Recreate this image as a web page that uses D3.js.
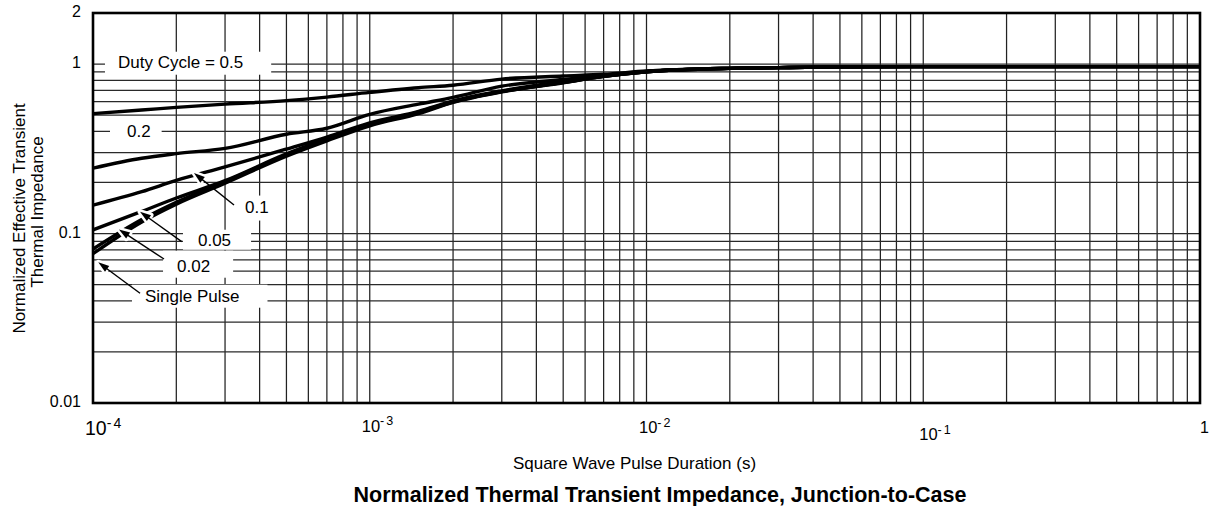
<!DOCTYPE html>
<html><head><meta charset="utf-8">
<script src="https://cdn.jsdelivr.net/npm/d3@7"></script>
<style>
html,body{margin:0;padding:0;background:#fff;}
svg{display:block;font-family:"Liberation Sans",Arial,Helvetica,sans-serif;}
</style></head>
<body><svg id="c" width="1210" height="506"></svg>
<script>
// ---- data ----
const tVals = [1e-4,1.5e-4,2e-4,3e-4,5e-4,7e-4,1e-3,1.5e-3,2e-3,3e-3,5e-3,7e-3,1e-2,2e-2,3e-2,5e-2,1e-1,1];
const duty05 = [0.51,0.535,0.555,0.58,0.608,0.638,0.68,0.725,0.75,0.815,0.85,0.87,0.91,0.943,0.952,0.962,0.965,0.965];
const duty02 = [0.243,0.278,0.296,0.318,0.385,0.418,0.505,0.58,0.635,0.74,0.81,0.855,0.905,0.943,0.952,0.962,0.965,0.965];
const duty01 = [0.147,0.1765,0.2056,0.247,0.315,0.371,0.45,0.525,0.605,0.695,0.79,0.848,0.9,0.943,0.952,0.962,0.965,0.965];
const duty005 = [0.105,0.135,0.162,0.205,0.295,0.362,0.443,0.52,0.6,0.69,0.78,0.846,0.9,0.943,0.952,0.962,0.965,0.965];
const duty002 = [0.081,0.121,0.153,0.202,0.29,0.357,0.437,0.515,0.597,0.688,0.778,0.845,0.9,0.943,0.952,0.962,0.965,0.965];
const singlePulse = [0.076,0.117,0.149,0.198,0.286,0.352,0.432,0.51,0.594,0.685,0.775,0.845,0.9,0.943,0.952,0.962,0.965,0.965];
const seriesList = [duty05,duty02,duty01,duty005,duty002,singlePulse];

const xTickVals = [1e-4,1e-3,1e-2,1e-1,1];
const xTickExp = ["-4","-3","-2","-1",""];
const yTickVals = [2,1,0.1,0.01];
const yTickText = ["2","1","0.1","0.01"];

const annoText = ["Duty Cycle = 0.5","0.2","0.1","0.05","0.02","Single Pulse"];
const annoAt   = [[1.231e-4,0.951],[1.327e-4,0.3727],[3.541e-4,0.1329],[2.395e-4,0.0847],[2.012e-4,0.05951],[1.541e-4,0.03959]];
const annoTip  = [null,null,[2.317e-4,0.2276],[1.479e-4,0.1345],[1.241e-4,0.1056],[1.045e-4,0.0676]];
const annoTail = [null,null,[3.232e-4,0.1473],[2.092e-4,0.0895],[1.805e-4,0.0707],[1.479e-4,0.0444]];
const annoPad  = [[13,28,1,3],[17,11,0,1],[8,8,2,4],[15,20,1,0],[14,23,6,2],[13,28,2,2]];

// ---- chart ----
const svg = d3.select("#c");
const L=93,R=1200,T=13,B=403;
const x = d3.scaleLog().domain([1e-4,1]).range([L,R]);
const y = d3.scaleLog().domain([0.01,2]).range([B,T]);

svg.append("defs").append("clipPath").attr("id","clip")
  .append("rect").attr("x",L).attr("y",T).attr("width",R-L).attr("height",B-T);

const grid = svg.append("g");
const xGrid = x.ticks().filter(v=>v>1e-4*1.0001 && v<0.9999);
const yGrid = y.ticks().filter(v=>v>0.0100001 && v<1.9999);
grid.selectAll("line.v").data(xGrid).join("line")
  .attr("x1",d=>x(d)).attr("x2",d=>x(d)).attr("y1",T).attr("y2",B)
  .attr("stroke","#222").attr("stroke-width",1.25);
grid.selectAll("line.h").data(yGrid).join("line")
  .attr("y1",d=>y(d)).attr("y2",d=>y(d)).attr("x1",L).attr("x2",R)
  .attr("stroke","#2a2a2a").attr("stroke-width",1.25);

const boxG = svg.append("g");
const curveG = svg.append("g").attr("clip-path","url(#clip)");
const arrowG = svg.append("g");
const textG = svg.append("g");

const line = d3.line().x(d=>x(d[0])).y(d=>y(d[1])).curve(d3.curveMonotoneX);
seriesList.forEach(s=>{
  curveG.append("path").attr("d",line(tVals.map((t,i)=>[t,s[i]])))
    .attr("fill","none").attr("stroke","#000").attr("stroke-width",3.4)
    .attr("stroke-linejoin","round").attr("stroke-linecap","round");
});

// annotations
annoText.forEach((txt,i)=>{
  const t = textG.append("text").attr("x",x(annoAt[i][0])).attr("y",y(annoAt[i][1]))
    .attr("font-size",17).attr("fill","#000").text(txt);
  const bb = t.node().getBBox();
  const p = annoPad[i];
  boxG.append("rect").attr("x",bb.x-p[0]).attr("y",bb.y-p[2])
    .attr("width",bb.width+p[0]+p[1]).attr("height",bb.height+p[2]+p[3]).attr("fill","#fff");
  if(annoTip[i]){
    const tx=x(annoTip[i][0]), ty=y(annoTip[i][1]);
    const sx=x(annoTail[i][0]), sy=y(annoTail[i][1]);
    const dx=tx-sx, dy=ty-sy, len=Math.hypot(dx,dy), ux=dx/len, uy=dy/len;
    const hl=11, hw=3.6;
    const bx=tx-ux*hl, by=ty-uy*hl;
    const pts=[[tx,ty],[bx-uy*hw,by+ux*hw],[bx+uy*hw,by-ux*hw]];
    arrowG.append("polygon").attr("points",pts.map(p=>p.join(",")).join(" "))
      .attr("fill","#fff").attr("stroke","#fff").attr("stroke-width",5).attr("stroke-linejoin","round");
    arrowG.append("line").attr("x1",sx).attr("y1",sy).attr("x2",bx+ux*2).attr("y2",by+uy*2)
      .attr("stroke","#000").attr("stroke-width",1.4);
    arrowG.append("polygon").attr("points",pts.map(p=>p.join(",")).join(" ")).attr("fill","#000");
  }
});

// frame
svg.append("rect").attr("x",L).attr("y",T).attr("width",R-L).attr("height",B-T)
  .attr("fill","none").attr("stroke","#000").attr("stroke-width",2.6);

// y tick labels
svg.selectAll("text.yt").data(yTickVals).join("text")
  .attr("x",81).attr("y",d=>y(d)+4.4).attr("text-anchor","end")
  .attr("font-size",16).text((d,i)=>yTickText[i]);

// x tick labels
const xOff = [-8,-8,-7.5,-4,0];
const xBase = [435,431.7,433,440,432.7];
const xMain = [19.5,16.5,16.5,16.5,16];
const xSup = [14,12.5,12.5,12.5,12];
xTickVals.forEach((v,i)=>{
  const t = svg.append("text").attr("x",x(v)+xOff[i]).attr("y",xBase[i]).attr("font-size",xMain[i]);
  if(xTickExp[i]){
    t.append("tspan").text("10");
    t.append("tspan").attr("font-size",xSup[i]).attr("dy",-(xMain[i]*0.38)).text("-");
    t.append("tspan").attr("font-size",xSup[i]).attr("dx",2).text(xTickExp[i].slice(1));
  } else t.text("1");
});

// axis titles
svg.append("text").attr("x",634.5).attr("y",469).attr("text-anchor","middle")
  .attr("font-size",17).text("Square Wave Pulse Duration (s)");
svg.append("text").attr("x",660).attr("y",502).attr("text-anchor","middle")
  .attr("font-size",21.5).attr("font-weight","bold").text("Normalized Thermal Transient Impedance, Junction-to-Case");
const yt = svg.append("text").attr("transform","translate(25,218.5) rotate(-90)")
  .attr("text-anchor","middle").attr("font-size",17);
yt.text("Normalized Effective Transient");
svg.append("text").attr("transform","translate(43,212) rotate(-90)")
  .attr("text-anchor","middle").attr("font-size",17).text("Thermal Impedance");
</script></body></html>
